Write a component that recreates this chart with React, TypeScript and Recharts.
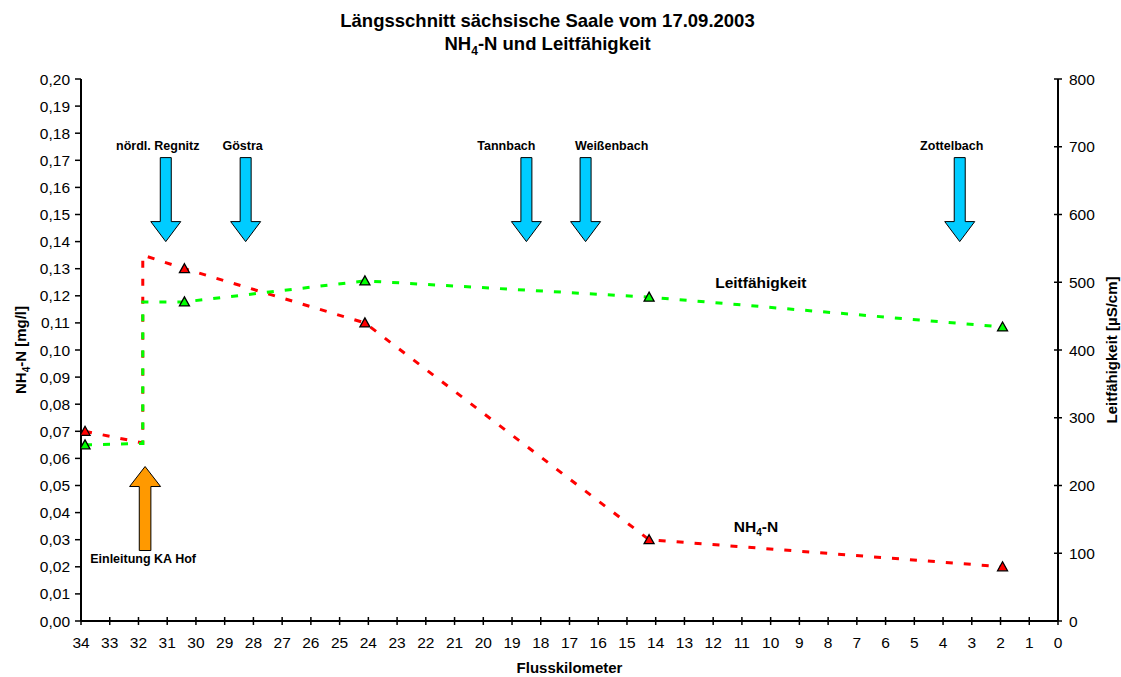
import React from 'react';
import { ComposedChart, Line, Scatter, XAxis, YAxis, Label } from 'recharts';

// ---------- data ----------
const kmTicks = [0, 1, 2, 3, 4, 5, 6, 7, 8, 9, 10, 11, 12, 13, 14, 15, 16, 17, 18, 19, 20, 21, 22, 23, 24, 25, 26, 27, 28, 29, 30, 31, 32, 33, 34];
const nh4Ticks = [0, 0.01, 0.02, 0.03, 0.04, 0.05, 0.06, 0.07, 0.08, 0.09, 0.1, 0.11, 0.12, 0.13, 0.14, 0.15, 0.16, 0.17, 0.18, 0.19, 0.2];
const lfTicks = [0, 100, 200, 300, 400, 500, 600, 700, 800];

const nh4Km = [33.86, 31.85, 31.85, 30.4, 24.12, 14.23, 1.93];
const nh4Values = [0.07, 0.0657, 0.135, 0.13, 0.11, 0.03, 0.02];
const nh4Measured = [true, false, false, true, true, true, true];

const lfKm = [33.86, 31.85, 31.85, 30.4, 24.12, 14.23, 1.93];
const lfValues = [260, 262, 471, 471, 502, 478, 434];
const lfMeasured = [true, false, false, true, true, true, true];

const tributaryNames = ['nördl. Regnitz', 'Göstra', 'Tannbach', 'Weißenbach', 'Zottelbach'];
const tributaryKm = [31.05, 28.27, 18.5, 16.44, 3.42];
const tributaryTip = [0.14, 0.14, 0.14, 0.14, 0.14];

const inflowNames = ['Einleitung KA Hof'];
const inflowKm = [31.77];
const inflowTip = [0.057];

const seriesLabelNames = ['Leitfähigkeit', 'NH4-N'];
const seriesLabelKm = [10.34, 10.51];
const seriesLabelValue = [0.1228, 0.0329];

// ---------- styles ----------
const FONT = "Arial, 'Liberation Sans', Helvetica, sans-serif";
const W = 1121;
const H = 677;
const TICK_FONT = 15.5;
const tributaryLabelDx = [-8, -3, -20, 26, -8];

const nh4Data = nh4Km.map((km, i) => ({ km, v: nh4Values[i], m: nh4Measured[i] }));
const lfData = lfKm.map((km, i) => ({ km, v: lfValues[i], m: lfMeasured[i] }));
const tributaryData = tributaryKm.map((km, i) => ({ km, v: tributaryTip[i], name: tributaryNames[i], dx: tributaryLabelDx[i] }));
const inflowData = inflowKm.map((km, i) => ({ km, v: inflowTip[i], name: inflowNames[i] }));
const seriesLabelData = seriesLabelKm.map((km, i) => ({ km, v: seriesLabelValue[i], name: seriesLabelNames[i] }));

const makeTriangle = (fill: string) => (props: any) => {
  const { cx, cy, payload, index } = props;
  if (!payload || !payload.m || cx == null || cy == null) return <g key={`e${index}`} />;
  const hw = 5, hh = 5;
  return (
    <path
      key={`t${index}`}
      d={`M${cx},${cy - hh} L${cx + hw},${cy + hh - 1} L${cx - hw},${cy + hh - 1} Z`}
      fill={fill}
      stroke="#000"
      strokeWidth={1.3}
    />
  );
};

const DownArrow = (props: any) => {
  const { cx, cy, payload } = props;
  const len = 84, headLen = 20, headHalf = 15, shaftHalf = 5.5;
  const d = `M${cx},${cy} L${cx - headHalf},${cy - headLen} L${cx - shaftHalf},${cy - headLen} L${cx - shaftHalf},${cy - len} L${cx + shaftHalf},${cy - len} L${cx + shaftHalf},${cy - headLen} L${cx + headHalf},${cy - headLen} Z`;
  return (
    <g>
      <path d={d} fill="#00ccff" stroke="#000" strokeWidth={1} />
      <text x={cx + payload.dx} y={cy - len - 8} textAnchor="middle" fontSize={12.5} fontWeight="bold" fontFamily={FONT} fill="#000">
        {payload.name}
      </text>
    </g>
  );
};

const UpArrow = (props: any) => {
  const { cx, cy, payload } = props;
  const len = 84, headLen = 20, headHalf = 15.5, shaftHalf = 5.8;
  const d = `M${cx},${cy} L${cx + headHalf},${cy + headLen} L${cx + shaftHalf},${cy + headLen} L${cx + shaftHalf},${cy + len} L${cx - shaftHalf},${cy + len} L${cx - shaftHalf},${cy + headLen} L${cx - headHalf},${cy + headLen} Z`;
  return (
    <g>
      <path d={d} fill="#ff9900" stroke="#000" strokeWidth={1} />
      <text x={cx - 2} y={cy + len + 12} textAnchor="middle" fontSize={12.5} fontWeight="bold" fontFamily={FONT} fill="#000">
        {payload.name}
      </text>
    </g>
  );
};

const SeriesLabel = (props: any) => {
  const { cx, cy, payload } = props;
  if (payload.name === 'NH4-N') {
    return (
      <text x={cx} y={cy} textAnchor="middle" fontSize={15.5} fontWeight="bold" fontFamily={FONT} fill="#000">
        NH<tspan fontSize={10} dy={4}>4</tspan><tspan dy={-4}>-N</tspan>
      </text>
    );
  }
  return (
    <text x={cx} y={cy} textAnchor="middle" fontSize={15.5} fontWeight="bold" fontFamily={FONT} fill="#000">
      {payload.name}
    </text>
  );
};

const XTick = (props: any) => {
  const { x, y, payload } = props;
  return (
    <g>
      <line x1={x} x2={x} y1={y - 8} y2={y} stroke="#000" strokeWidth={1.5} />
      <text x={x} y={y + 23} textAnchor="middle" fontSize={TICK_FONT} fontFamily={FONT} fill="#000">
        {payload.value}
      </text>
    </g>
  );
};

const LeftTick = (props: any) => {
  const { x, y, payload } = props;
  return (
    <g>
      <line x1={x} x2={x + 6} y1={y} y2={y} stroke="#000" strokeWidth={1.5} />
      <text x={x - 5} y={y} dy="0.36em" textAnchor="end" fontSize={TICK_FONT} fontFamily={FONT} fill="#000">
        {Number(payload.value).toFixed(2).replace('.', ',')}
      </text>
    </g>
  );
};

const RightTick = (props: any) => {
  const { x, y, payload } = props;
  return (
    <g>
      <line x1={x - 8} x2={x} y1={y} y2={y} stroke="#000" strokeWidth={1.5} />
      <text x={x + 7} y={y} dy="0.36em" textAnchor="start" fontSize={TICK_FONT} fontFamily={FONT} fill="#000">
        {payload.value}
      </text>
    </g>
  );
};

const LeftAxisTitle = (props: any) => {
  const { viewBox } = props;
  const x = viewBox.x + 21;
  const y = viewBox.y + viewBox.height / 2;
  return (
    <text x={x} y={y} transform={`rotate(-90 ${x} ${y})`} textAnchor="middle" dy="0.35em" fontSize={15} fontWeight="bold" fontFamily={FONT} fill="#000">
      NH<tspan fontSize={10} dy={4}>4</tspan><tspan dy={-4}>-N [mg/l]</tspan>
    </text>
  );
};

const RightAxisTitle = (props: any) => {
  const { viewBox } = props;
  const x = viewBox.x + 54;
  const y = viewBox.y + viewBox.height / 2;
  return (
    <text x={x} y={y} transform={`rotate(-90 ${x} ${y})`} textAnchor="middle" dy="0.35em" fontSize={15} fontWeight="bold" fontFamily={FONT} fill="#000">
      Leitfähigkeit [µS/cm]
    </text>
  );
};

const BottomAxisTitle = (props: any) => {
  const { viewBox } = props;
  const x = viewBox.x + viewBox.width / 2;
  const y = viewBox.y + 52;
  return (
    <text x={x} y={y} textAnchor="middle" fontSize={15} fontWeight="bold" fontFamily={FONT} fill="#000">
      Flusskilometer
    </text>
  );
};

export default function App() {
  return (
    <div style={{ position: 'absolute', left: 0, top: 0, width: W, height: H, background: '#fff' }}>
      <ComposedChart width={W} height={H} margin={{ top: 79, right: 0, bottom: 0, left: 0 }} style={{ fontFamily: FONT }}>
        <XAxis
          xAxisId="km"
          type="number"
          dataKey="km"
          domain={[0, 34]}
          reversed
          ticks={kmTicks}
          interval={0}
          height={56}
          tickSize={4}
          tickMargin={0}
          tickLine={false}
          tick={<XTick />}
          axisLine={{ stroke: '#000', strokeWidth: 2 }}
          allowDataOverflow
        >
          <Label content={<BottomAxisTitle />} />
        </XAxis>
        <YAxis
          yAxisId="left"
          orientation="left"
          type="number"
          domain={[0, 0.2]}
          ticks={nh4Ticks}
          interval={0}
          width={81}
          tickSize={6}
          tickMargin={0}
          tickLine={false}
          tick={<LeftTick />}
          axisLine={{ stroke: '#000', strokeWidth: 2 }}
          allowDataOverflow
        >
          <Label content={<LeftAxisTitle />} />
        </YAxis>
        <YAxis
          yAxisId="right"
          orientation="right"
          type="number"
          domain={[0, 800]}
          ticks={lfTicks}
          interval={0}
          width={63}
          tickSize={4}
          tickMargin={0}
          tickLine={false}
          tick={<RightTick />}
          axisLine={{ stroke: '#000', strokeWidth: 2 }}
          allowDataOverflow
        >
          <Label content={<RightAxisTitle />} />
        </YAxis>

        <Line
          xAxisId="km"
          yAxisId="left"
          data={nh4Data}
          dataKey="v"
          type="linear"
          stroke="#ff0000"
          strokeWidth={3}
          strokeDasharray="7 11"
          dot={makeTriangle('#ff0000')}
          activeDot={false}
          isAnimationActive={false}
        />
        <Line
          xAxisId="km"
          yAxisId="right"
          data={lfData}
          dataKey="v"
          type="linear"
          stroke="#00ff00"
          strokeWidth={3}
          strokeDasharray="7 11"
          dot={makeTriangle('#00ff00')}
          activeDot={false}
          isAnimationActive={false}
        />
        <Scatter xAxisId="km" yAxisId="left" data={tributaryData} dataKey="v" shape={<DownArrow />} isAnimationActive={false} />
        <Scatter xAxisId="km" yAxisId="left" data={inflowData} dataKey="v" shape={<UpArrow />} isAnimationActive={false} />
        <Scatter xAxisId="km" yAxisId="left" data={seriesLabelData} dataKey="v" shape={<SeriesLabel />} isAnimationActive={false} />
      </ComposedChart>
      <svg width={W} height={60} style={{ position: 'absolute', left: 0, top: 0, pointerEvents: 'none' }}>
        <text x={547.5} y={27} textAnchor="middle" fontSize={18.5} fontWeight="bold" fontFamily={FONT} fill="#000">
          Längsschnitt sächsische Saale vom 17.09.2003
        </text>
        <text x={547.5} y={50} textAnchor="middle" fontSize={18.5} fontWeight="bold" fontFamily={FONT} fill="#000">
          NH<tspan fontSize={12} dy={5}>4</tspan><tspan dy={-5}>-N und Leitfähigkeit</tspan>
        </text>
      </svg>
    </div>
  );
}
